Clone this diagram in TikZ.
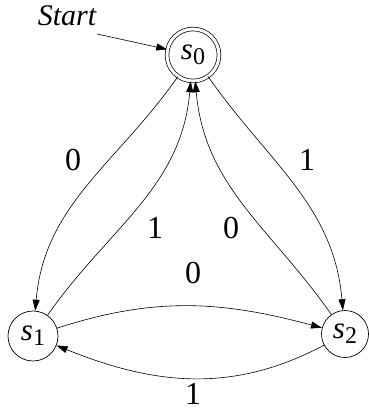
\documentclass[tikz,border=0pt]{standalone}
\usepackage{fontspec}
\setmainfont{Liberation Serif}
\usetikzlibrary{arrows.meta}
\newcommand{\stname}[1]{\textit{s}\raisebox{-0.35ex}{\fontsize{24}{26}\selectfont #1}}
\begin{document}
\begin{tikzpicture}[x=1pt,y=-1pt,
  state/.style={draw,circle,line width=0.7pt,minimum size=50pt,inner sep=0pt,font=\fontsize{31}{34}\selectfont},
  acc/.style={state,double,double distance=3pt,minimum size=52pt},
  edge/.style={line width=0.6pt,-{Triangle[length=11pt,width=7pt]}},
  lbl/.style={font=\fontsize{32}{34}\selectfont,inner sep=1pt}]
\useasboundingbox (0,0) rectangle (369,412);
\node[acc] (s0) at (193,55) {\stname{0}};
\node[state] (s1) at (33,336) {\stname{1}};
\node[state,minimum size=47pt] (s2) at (345,334) {\stname{2}};
\node[font=\fontsize{30}{34}\selectfont\itshape] (start) at (67,16) {Start};
\coordinate (st) at (97,34);
\draw[edge] (st) -- (s0);
\draw[edge] (s0) to[out=235,in=85] (s1);
\draw[edge] (s1) to[out=55,in=265] (s0);
\draw[edge] (s2) to[out=125,in=275] (s0);
\draw[edge] (s0) to[out=-55,in=95] (s2);
\draw[edge] (s1) to[out=18,in=165] (s2);
\draw[edge] (s2) to[out=208,in=-22] (s1);
\node[lbl] (l1) at (73,160) {0};
\node[lbl] (l2) at (155,228) {1};
\node[lbl] (l3) at (231,228) {0};
\node[lbl] (l4) at (307,160) {1};
\node[lbl] (l5) at (193,273) {0};
\node[lbl] (l6) at (193,394) {1};
\end{tikzpicture}
\end{document}
